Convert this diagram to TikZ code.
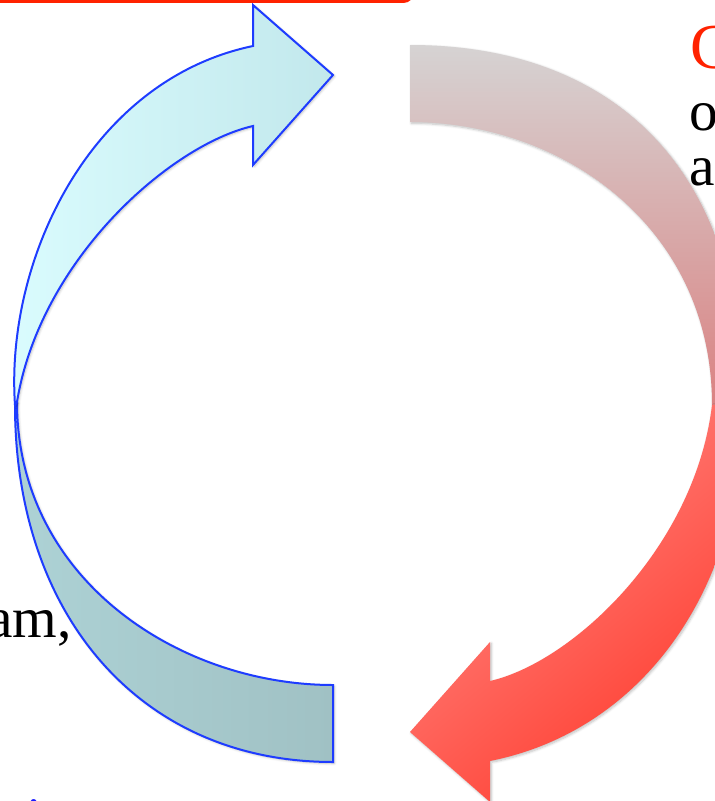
\documentclass[tikz,border=0pt]{standalone}
\usepackage{fontspec}
\setmainfont{Liberation Serif}
\usepackage{tikz}
\usetikzlibrary{shadows.blur}

\definecolor{cyanlight}{HTML}{DAFCFE}
\definecolor{cyandark}{HTML}{C2E8EC}
\definecolor{tealleft}{HTML}{ADD2D5}
\definecolor{tealright}{HTML}{A0C1C4}
\definecolor{arrowblue}{HTML}{1E3CFF}
\definecolor{tailgray}{HTML}{D6D3D3}
\definecolor{tailpink}{HTML}{DA8282}
\definecolor{headlight}{HTML}{FF8A86}
\definecolor{headred}{HTML}{FF3B2D}
\definecolor{titlered}{HTML}{FF2200}
\definecolor{textblue}{HTML}{1A1AFF}

\tikzset{
    bluearrow/.style={draw=arrowblue, line width=1.5pt, line join=miter},
    softshadow/.style={blur shadow={shadow xshift=1pt, shadow yshift=-1pt, shadow blur steps=6, shadow opacity=25}},
    slidetext/.style={inner sep=0pt, font=\fontsize{43}{52}\selectfont},
}

\begin{document}
\begin{tikzpicture}[x=0.75pt, y=-0.75pt]
    % Frame
    \useasboundingbox (0,0) rectangle (715,801);
    \clip (0,0) rectangle (715,801);

    % Title box, only its lower edge shows
    \draw[titlered, line width=2pt, rounded corners=6pt] (-40,-80) rectangle (412,1.5);

    % Blue arrow, back part
    \shade[bluearrow, left color=tealleft, right color=tealright, softshadow]
        (15,405) .. controls (15,615) and (140,762) .. (333,762)
        -- (333,685)
        .. controls (180,685) and (17,580) .. (17,402) -- cycle;
    % Blue arrow, front part with head
    \shade[bluearrow, left color=cyanlight, right color=cyandark, softshadow]
        (17,402) .. controls (40,260) and (170,145) .. (253,126)
        -- (253,165) -- (333,75) -- (253,5) -- (253,46)
        .. controls (90,80) and (5,260) .. (15,405) -- cycle;

    % Red arrow, back part
    \shade[top color=tailgray, bottom color=tailpink, softshadow]
        (410,45) .. controls (630,45) and (748,190) .. (740,404)
        -- (712,405)
        .. controls (712,227) and (563,122) .. (410,122) -- cycle;
    % Red arrow, front part with head
    \shade[top color=headlight, bottom color=headred, shading angle=40, softshadow]
        (712,405) .. controls (695,547) and (573,662) .. (490,681)
        -- (490,642) -- (410,732) -- (490,802) -- (490,761)
        .. controls (660,727) and (750,560) .. (740,404) -- cycle;

    % Text cut by the frame
    \node[slidetext, anchor=base west, text=titlered, font=\fontsize{48}{52}\selectfont] (title) at (690,68) {C};
    \node[slidetext, anchor=base west] (lineone) at (689,130) {o};
    \node[slidetext, anchor=base west] (linetwo) at (689,185) {ac};
    \node[slidetext, anchor=base east] (leftline) at (72,637) {am,};
    \node[slidetext, anchor=base west, text=textblue] (bottomline) at (26,837) {i};
\end{tikzpicture}
\end{document}
